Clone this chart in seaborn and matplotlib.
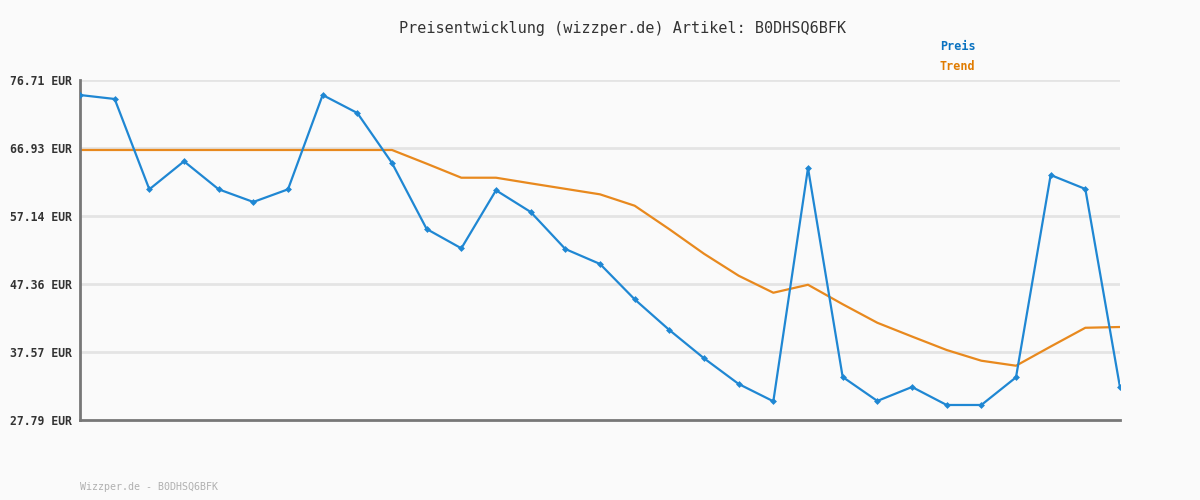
import pandas as pd
import numpy as np
import matplotlib.pyplot as plt
import seaborn as sns

# price history (EUR)
preis = [74.55, 73.98, 60.98, 65.01, 60.98, 59.16, 60.98, 74.55, 71.96, 64.77,
         55.27, 52.49, 60.84, 57.72, 52.39, 50.24, 45.15, 40.74, 36.67, 32.97,
         30.48, 64.05, 33.98, 30.53, 32.54, 29.95, 29.95, 33.93, 63.04, 61.03,
         32.49]
trend = [66.64, 66.64, 66.64, 66.64, 66.64, 66.64, 66.64, 66.64, 66.64, 66.64,
         64.67, 62.65, 62.65, 61.84, 61.05, 60.26, 58.62, 55.24, 51.71, 48.55,
         46.10, 47.25, 44.45, 41.78, 39.80, 37.86, 36.32, 35.60, 38.36, 41.06,
         41.17]
yticks = [27.79, 37.57, 47.36, 57.14, 66.93, 76.71]

df = pd.DataFrame({"idx": np.arange(len(preis)), "Preis": preis, "Trend": trend})

sns.set_style("white")
plt.rcParams['font.family'] = ['DejaVu Sans Mono', 'DejaVu Sans']

bg = "#fafafa"
fig = plt.figure(figsize=(12, 5), dpi=100, facecolor=bg)
ax = fig.add_axes([80/1200, 80/500, 1040/1200, 340/500])
ax.set_facecolor(bg)

for t in yticks[1:]:
    ax.axhline(t, color="#e4e4e4", lw=2, zorder=0)

sns.lineplot(data=df, x="idx", y="Trend", ax=ax, color="#e8891e", lw=1.6, zorder=2)
sns.lineplot(data=df, x="idx", y="Preis", ax=ax, color="#1f87d3", lw=1.6,
             marker="D", markersize=3.5, markeredgewidth=0, zorder=3)

ax.set_xlim(0, len(preis) - 1)
ax.set_ylim(yticks[0], yticks[-1])
ax.set_xticks([])
ax.set_yticks(yticks)
ax.set_yticklabels([f"{v:.2f} EUR" for v in yticks], fontsize=8.3, color="#333333",
                   fontweight="bold")
ax.tick_params(axis="y", length=0, pad=6)
ax.set_xlabel("")
ax.set_ylabel("")

for s in ["top", "right"]:
    ax.spines[s].set_visible(False)
for s in ["left", "bottom"]:
    ax.spines[s].set_color("#777777")
    ax.spines[s].set_linewidth(2)

fig.text(623/1200, 1 - 28/500, "Preisentwicklung (wizzper.de) Artikel: B0DHSQ6BFK",
         ha="center", va="center", fontsize=10.9, color="#333333")
fig.text(940/1200, 1 - 46/500, "Preis", ha="left", va="center", fontsize=8.5,
         color="#0a72c0", fontweight="bold")
fig.text(940/1200, 1 - 67/500, "Trend", ha="left", va="center", fontsize=8.5,
         color="#e07b00", fontweight="bold")
fig.text(80/1200, 1 - 487/500, "Wizzper.de - B0DHSQ6BFK", ha="left", va="center",
         fontsize=7.2, color="#b0b0b0")

fig.savefig("out.png", dpi=100, facecolor=bg)
